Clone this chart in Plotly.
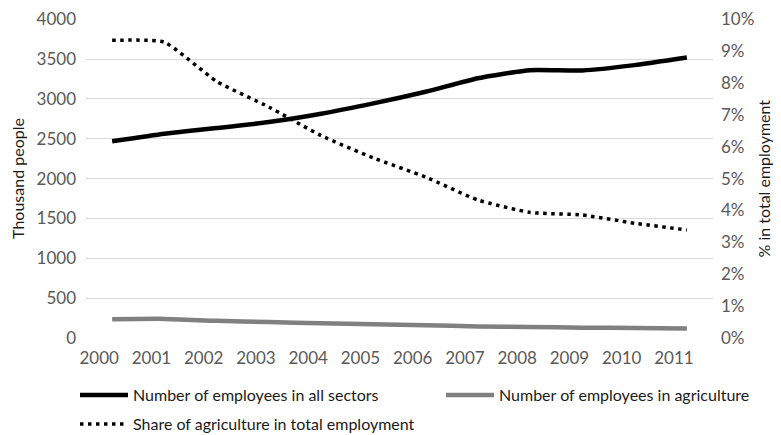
import plotly.graph_objects as go

years = list(range(2000, 2012))
all_sectors = [2470, 2565, 2635, 2710, 2815, 2945, 3090, 3260, 3362, 3358, 3425, 3520]
agriculture = [235, 240, 215, 200, 185, 172, 160, 145, 138, 130, 125, 120]
share_pct = [9.34, 9.28, 8.05, 7.25, 6.35, 5.65, 5.05, 4.33, 3.94, 3.86, 3.60, 3.39]

left_ticks = [0, 500, 1000, 1500, 2000, 2500, 3000, 3500, 4000]
right_ticks = [0, 1, 2, 3, 4, 5, 6, 7, 8, 9, 10]
right_labels = [f"{t}%" for t in right_ticks]

FONT = "Lato"
# page body has an 8px margin, so the figure fills the rest of the window
W, H = 773, 427

fig = go.Figure()
fig.add_trace(go.Scatter(
    x=years, y=all_sectors, mode="lines", name="Number of employees in all sectors",
    line=dict(color="#000000", width=4.5, shape="spline", smoothing=0.5),
    legend="legend2", yaxis="y"))
fig.add_trace(go.Scatter(
    x=years, y=agriculture, mode="lines", name="Number of employees in agriculture",
    line=dict(color="#808080", width=4.5, shape="spline", smoothing=0.5),
    legend="legend3", yaxis="y"))
fig.add_trace(go.Scatter(
    x=years, y=share_pct, mode="lines", name="Share of agriculture in total employment",
    line=dict(color="#000000", width=3.5, dash="3.5px,4.5px", shape="spline", smoothing=0.5),
    legend="legend4", yaxis="y2"))

leg_common = dict(font=dict(family=FONT, size=16, color="#1a1a1a"), itemwidth=48,
                  bgcolor="rgba(0,0,0,0)", borderwidth=0, xref="container", yref="container",
                  xanchor="left", yanchor="middle", orientation="h")

tick_font = dict(family=FONT, size=17, color="#595959")
title_font = dict(family=FONT, size=16, color="#1a1a1a")

fig.update_layout(
    width=W, height=H,
    margin=dict(l=78, r=68, t=11, b=97, autoexpand=False),
    plot_bgcolor="white", paper_bgcolor="white",
    font=dict(family=FONT, size=16, color="#595959"),
    showlegend=True,
    xaxis=dict(range=[1999.5, 2011.5], tickvals=years, ticktext=[str(y) for y in years],
               showgrid=False, zeroline=False, showline=False, ticks="",
               ticklabelshift=-13, ticklabelstandoff=8, tickfont=tick_font),
    yaxis=dict(range=[0, 4004], tickvals=left_ticks, showgrid=True, gridcolor="#d9d9d9",
               gridwidth=1, zeroline=False, showline=False, ticks="",
               ticklabelstandoff=9, tickfont=tick_font,
               title=dict(text="Thousand people", font=title_font, standoff=7)),
    yaxis2=dict(range=[0, 10.01], tickvals=right_ticks, ticktext=right_labels, overlaying="y",
                side="right", showgrid=False, zeroline=False, showline=False, ticks="",
                ticklabelstandoff=7, tickfont=tick_font),
    annotations=[dict(text="% in total employment", xref="paper", yref="paper",
                      x=1, y=0.5, xshift=50, xanchor="center", yanchor="middle",
                      textangle=-90, showarrow=False, font=title_font)],
    legend2=dict(x=67 / W, y=1 - 387 / H, **leg_common),
    legend3=dict(x=433 / W, y=1 - 387 / H, **leg_common),
    legend4=dict(x=67 / W, y=1 - 416 / H, **leg_common),
)

fig.write_html("out.html")
